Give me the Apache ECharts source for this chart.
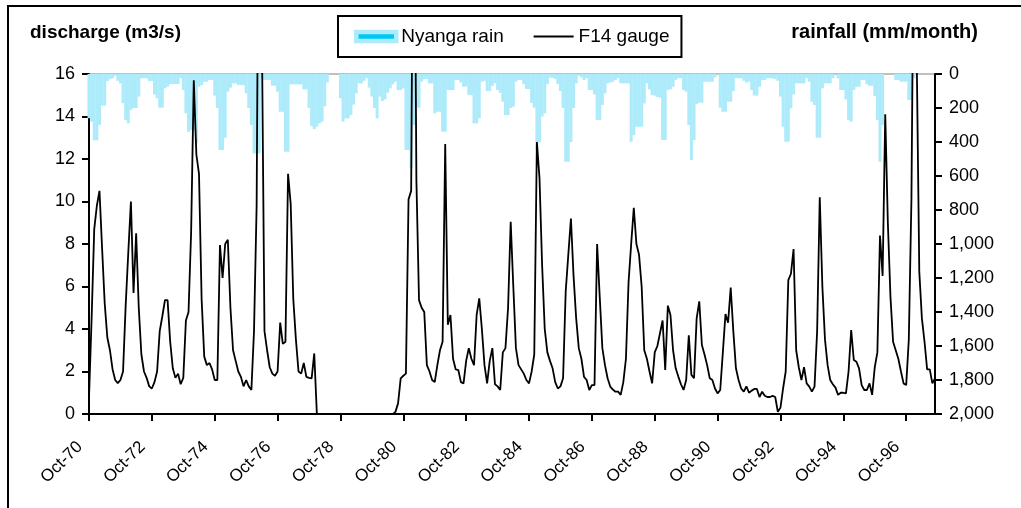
<!DOCTYPE html>
<html>
<head>
<meta charset="utf-8">
<title>F14 gauge discharge and Nyanga rain</title>
<script src="https://cdn.jsdelivr.net/npm/echarts@6/dist/echarts.min.js"></script>
<style>
    html, body { margin: 0; padding: 0; background: #fff; }
    #chart { width: 1021px; height: 508px; }
</style>
</head>
<body>
<div id="chart"></div>
<script>
// monthly series, one row per hydrological year (Oct .. Sep), Oct-70 .. Sep-97
var firstYear = 1970;
var monthNames = ['Jan', 'Feb', 'Mar', 'Apr', 'May', 'Jun', 'Jul', 'Aug', 'Sep', 'Oct', 'Nov', 'Dec'];

// F14 gauge discharge (m3/s)
var gaugeFlow = [
    0.75, 4.5, 8.7, 9.8, 10.5, 7.8, 5.2, 3.6, 3.0, 2.1, 1.6, 1.45,
    1.6, 2.0, 5.1, 7.6, 10.0, 5.7, 8.5, 5.0, 2.8, 2.0, 1.7, 1.3,
    1.2, 1.5, 2.0, 3.9, 4.6, 5.36, 5.36, 3.4, 2.15, 1.7, 1.9, 1.4,
    1.7, 4.4, 4.8, 8.6, 15.7, 12.2, 11.3, 5.4, 2.7, 2.3, 2.4, 2.1,
    1.6, 1.6, 7.95, 6.4, 8.0, 8.2, 5.0, 3.0, 2.5, 2.0, 1.75, 1.3,
    1.6, 1.3, 1.13, 3.9, 9.8, 30, 18, 3.9, 3.0, 2.2, 1.9, 1.8,
    2.0, 4.3, 3.3, 3.4, 11.3, 9.9, 5.4, 3.5, 2.0, 1.9, 2.4, 1.75,
    1.7, 1.68, 2.85, 0, 0, 0, 0, 0, 0, 0, 0, 0,
    0, 0, 0, 0, 0, 0, 0, 0, 0, 0, 0, 0,
    0, 0, 0, 0, 0, 0, 0, 0, 0, 0.1, 0.5, 1.68,
    1.8, 1.9, 10.1, 10.5, 30, 11, 5.36, 5.0, 4.8, 2.3, 2.0, 1.6,
    1.5, 2.3, 3.0, 3.4, 12.7, 4.2, 4.66, 2.6, 2.1, 2.07, 1.5, 1.44,
    2.5, 3.1, 2.6, 2.3, 4.66, 5.44, 4.0, 2.3, 1.44, 2.5, 3.1, 1.4,
    1.3, 1.13, 2.9, 3.1, 5.0, 9.05, 6.0, 3.1, 2.3, 2.1, 1.9, 1.6,
    1.44, 2.0, 2.8, 12.8, 11.1, 7.0, 4.0, 2.9, 2.5, 2.15, 1.5, 1.2,
    1.3, 1.68, 5.76, 7.5, 9.2, 6.5, 4.5, 3.1, 2.6, 1.75, 1.6, 1.13,
    1.36, 1.36, 8.0, 5.5, 3.1, 2.3, 1.68, 1.29, 1.15, 1.05, 1.05, 0.9,
    1.5, 2.6, 6.2, 8.0, 9.7, 8.0, 7.5, 6.0, 3.0, 2.6, 2.0, 1.44,
    2.9, 3.2, 3.8, 4.4, 2.07, 5.1, 4.66, 3.0, 2.15, 1.76, 1.4, 1.13,
    1.6, 3.7, 1.84, 1.68, 4.5, 5.3, 3.25, 2.8, 2.3, 1.68, 1.6, 1.2,
    0.97, 1.13, 2.9, 4.7, 4.3, 5.95, 3.9, 2.15, 1.6, 1.2, 1.05, 1.3,
    1.0, 1.1, 1.18, 1.18, 0.8, 1.05, 0.86, 0.8, 0.8, 0.85, 0.8, 0.1,
    0.3, 1.2, 2.0, 6.3, 6.6, 7.76, 3.0, 2.2, 1.6, 2.2, 1.44, 1.29,
    1.05, 1.29, 3.9, 10.2, 6.0, 3.5, 2.3, 1.6, 1.4, 1.24, 0.9, 1.0,
    1.0, 0.97, 2.0, 3.95, 2.54, 2.46, 2.15, 1.36, 1.13, 1.13, 1.44, 0.9,
    2.2, 2.9, 8.4, 6.5, 14.1, 9.0, 5.5, 3.4, 3.0, 2.6, 2.0, 1.44,
    1.36, 3.5, 10.1, 25, 17, 6.7, 4.5, 3.4, 2.1, 2.1, 1.44, 1.68
];

// Nyanga rain (mm/month)
var nyangaRain = [
    260, 280, 390, 390, 300, 186, 186, 41, 30, 25, 10, 40,
    55, 172, 270, 290, 211, 200, 200, 133, 25, 25, 25, 41,
    41, 120, 143, 198, 198, 84, 75, 59, 59, 59, 59, 25,
    94, 231, 340, 330, 330, 408, 75, 65, 45, 45, 35, 35,
    127, 200, 447, 447, 375, 104, 80, 55, 55, 65, 65, 65,
    114, 200, 300, 467, 467, 467, 25, 35, 35, 35, 69, 69,
    104, 222, 222, 457, 457, 61, 61, 61, 61, 61, 90, 90,
    200, 306, 324, 310, 290, 280, 190, 50, 0, 0, 0, 0,
    143, 280, 261, 261, 241, 180, 114, 55, 55, 40, 25, 80,
    133, 200, 261, 133, 159, 150, 110, 84, 60, 45, 94, 94,
    84, 447, 447, 555, 300, 198, 198, 45, 30, 30, 55, 55,
    231, 222, 222, 339, 339, 94, 94, 94, 35, 35, 50, 75,
    72, 124, 124, 290, 290, 261, 45, 40, 100, 100, 70, 55,
    94, 110, 163, 241, 241, 200, 192, 45, 35, 35, 60, 88,
    88, 170, 198, 447, 400, 250, 231, 60, 22, 22, 30, 60,
    100, 200, 516, 516, 400, 200, 55, 10, 20, 35, 25, 94,
    94, 120, 270, 270, 182, 114, 55, 50, 45, 35, 25, 55,
    55, 55, 55, 398, 360, 310, 310, 310, 173, 55, 90, 125,
    127, 135, 139, 388, 388, 94, 90, 75, 35, 25, 25, 94,
    104, 300, 506, 388, 176, 169, 169, 45, 45, 45, 45, 20,
    0, 198, 222, 222, 163, 163, 100, 25, 25, 25, 40, 50,
    45, 94, 127, 127, 75, 35, 35, 25, 25, 25, 30, 40,
    133, 310, 398, 398, 202, 120, 55, 55, 55, 55, 25, 45,
    163, 182, 375, 375, 84, 55, 55, 55, 25, 0, 25, 94,
    94, 150, 270, 280, 94, 75, 75, 35, 35, 60, 69, 69,
    130, 270, 516, 300, 0, 0, 0, 0, 35, 35, 45, 45,
    45, 153, 153, 25, 0, 0, 0, 0, 0, 0, 0, 0
];

// month labels: Oct-70, Nov-70, ...
var months = [];
for (var i = 0; i < gaugeFlow.length; i++) {
    var m = 9 + i;
    var yy = (firstYear + Math.floor(m / 12)) % 100;
    months.push(monthNames[m % 12] + '-' + (yy < 10 ? '0' + yy : yy));
}

var fontName = 'Liberation Sans, Arial, sans-serif';
var rainColor = '#adebfb';

var option = {
    backgroundColor: '#fff',
    animation: false,
    textStyle: { fontFamily: fontName, color: '#000' },
    title: [{
        text: 'discharge (m3/s)',
        left: 25,
        top: 18,
        textStyle: { fontSize: 19, fontWeight: 'bold', color: '#000', fontFamily: fontName }
    }, {
        text: 'rainfall (mm/month)',
        right: 38,
        top: 17,
        textStyle: { fontSize: 20, fontWeight: 'bold', color: '#000', fontFamily: fontName }
    }],
    legend: {
        left: 338,
        top: 16,
        padding: [11, 12, 11, 16],
        itemGap: 29,
        itemWidth: 40,
        itemHeight: 9,
        borderColor: '#000',
        borderWidth: 2,
        textStyle: { fontSize: 19, color: '#000', fontFamily: fontName },
        data: [{
            name: 'Nyanga rain',
            icon: 'rect',
            itemStyle: { color: '#00c8f4', borderColor: rainColor, borderWidth: 4.5 }
        }, {
            name: 'F14 gauge',
            // plain line, no marker dot
            itemStyle: { color: 'rgba(0,0,0,0)', borderColor: 'rgba(0,0,0,0)', borderWidth: 0 },
            lineStyle: { color: '#000', width: 1.8 }
        }]
    },
    grid: {
        left: 89,
        right: 86,
        top: 74,
        bottom: 94,
        show: true,
        borderColor: '#808080',
        borderWidth: 1
    },
    xAxis: {
        type: 'category',
        data: months,
        boundaryGap: false,
        axisLine: { lineStyle: { color: '#000', width: 2 } },
        axisTick: { interval: 23, length: 7, lineStyle: { color: '#000', width: 2 } },
        axisLabel: {
            interval: 23,
            rotate: 45,
            margin: 21,
            padding: [0, 13, 0, 0],
            fontSize: 17,
            color: '#000'
        },
        splitLine: { show: false }
    },
    yAxis: [{
        type: 'value',
        min: 0,
        max: 16,
        interval: 2,
        axisLine: { show: true, lineStyle: { color: '#000', width: 2 } },
        axisTick: { show: true, length: 7, lineStyle: { color: '#000', width: 2 } },
        axisLabel: { margin: 14, fontSize: 18, color: '#000' },
        splitLine: { show: false }
    }, {
        type: 'value',
        min: 0,
        max: 2000,
        interval: 200,
        inverse: true,
        position: 'right',
        axisLine: { show: true, lineStyle: { color: '#000', width: 2 } },
        axisTick: { show: true, length: 7, lineStyle: { color: '#000', width: 2 } },
        axisLabel: {
            margin: 14,
            fontSize: 18,
            color: '#000',
            formatter: function (v) {
                return v.toLocaleString('en-US');
            }
        },
        splitLine: { show: false }
    }],
    series: [{
        name: 'Nyanga rain',
        type: 'bar',
        yAxisIndex: 1,
        barWidth: 3,
        itemStyle: { color: rainColor },
        data: nyangaRain
    }, {
        name: 'F14 gauge',
        type: 'line',
        yAxisIndex: 0,
        symbol: 'none',
        lineStyle: { color: '#000', width: 1.8 },
        itemStyle: { color: '#000' },
        z: 5,
        data: gaugeFlow
    }],
    graphic: [{
        // outer chart frame
        type: 'rect',
        silent: true,
        shape: { x: 8, y: 6, width: 1100, height: 600 },
        style: { fill: 'none', stroke: '#000', lineWidth: 2 }
    }]
};

var chart = echarts.init(document.getElementById('chart'), null, { renderer: 'canvas' });
chart.setOption(option);
</script>
</body>
</html>
